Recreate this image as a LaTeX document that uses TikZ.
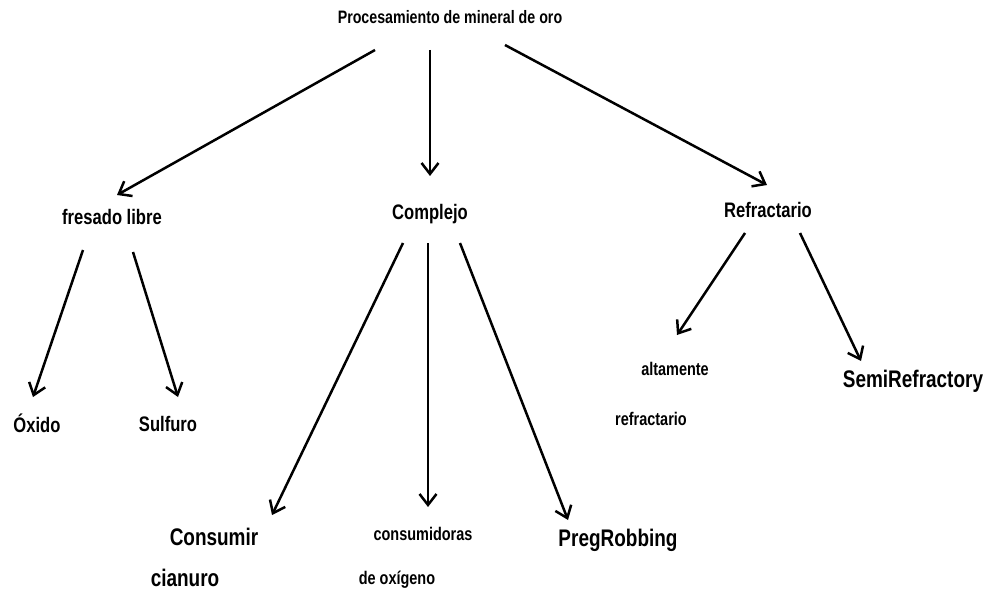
\documentclass[tikz,border=0pt]{standalone}
\usepackage{fontspec}
\newfontfamily\lab{Liberation Sans}[FakeStretch=0.79]
\usetikzlibrary{arrows.meta}
\tikzset{
  lbl/.style={inner sep=0pt, font=\lab\bfseries},
  mid/.style={lbl, font=\lab\bfseries\fontsize{21}{24}\selectfont},
  big/.style={lbl, font=\lab\bfseries\fontsize{24}{28}\selectfont},
  sml/.style={lbl, font=\lab\bfseries\fontsize{18.3}{21}\selectfont},
  ttl/.style={lbl, font=\lab\bfseries\fontsize{18}{21}\selectfont},
  arr/.style={line width=2.5pt, -{Straight Barb[length=11pt,width=17pt,line width=2.5pt]}}
}
\begin{document}
\begin{tikzpicture}[x=1pt,y=-1pt]
\useasboundingbox (0,0) rectangle (991,591);
\fill[white] (0,0) rectangle (991,591);
% nodes
\node[ttl] (title) at (450,17) {Procesamiento de mineral de oro};
\node[mid] (fres) at (112,217) {fresado libre};
\node[mid] (comp) at (430,214) {Complejo};
\node[mid] (refr) at (768,210) {Refractario};
\node[mid] (oxi) at (37,423) {Óxido};
\node[mid] (sulf) at (168,424) {Sulfuro};
\node[big] (cons) at (214,537) {Consumir};
\node[big] (cian) at (185,578) {cianuro};
\node[sml] (cmd) at (423,534) {consumidoras};
\node[sml] (oxg) at (397,580) {de oxígeno};
\node[big] (preg) at (618,540) {PregRobbing};
\node[sml] (alta) at (675,369) {altamente};
\node[sml] (refr2) at (651,419) {refractario};
\node[big] (semi) at (913,381) {SemiRefractory};
% connector end points
\coordinate (t1) at (375,50);  \coordinate (f1) at (117,195);
\coordinate (t2) at (430,50);  \coordinate (c1) at (430,176);
\coordinate (t3) at (505,45);  \coordinate (r1) at (767,185);
\coordinate (f2) at (83,250);  \coordinate (o1) at (33,397);
\coordinate (f3) at (133,252); \coordinate (s1) at (178,397);
\coordinate (c2) at (403,243); \coordinate (k1) at (272,515);
\coordinate (c3) at (428,243); \coordinate (k2) at (428,507);
\coordinate (c4) at (460,243); \coordinate (k3) at (568,520);
\coordinate (r2) at (745,233); \coordinate (a1) at (677,335);
\coordinate (r3) at (800,233); \coordinate (m1) at (861,361);
% connectors
\draw[arr] (t1) -- (f1);
\draw[arr] (t2) -- (c1);
\draw[arr] (t3) -- (r1);
\draw[arr] (f2) -- (o1);
\draw[arr] (f3) -- (s1);
\draw[arr] (c2) -- (k1);
\draw[arr] (c3) -- (k2);
\draw[arr] (c4) -- (k3);
\draw[arr] (r2) -- (a1);
\draw[arr] (r3) -- (m1);
\end{tikzpicture}
\end{document}
